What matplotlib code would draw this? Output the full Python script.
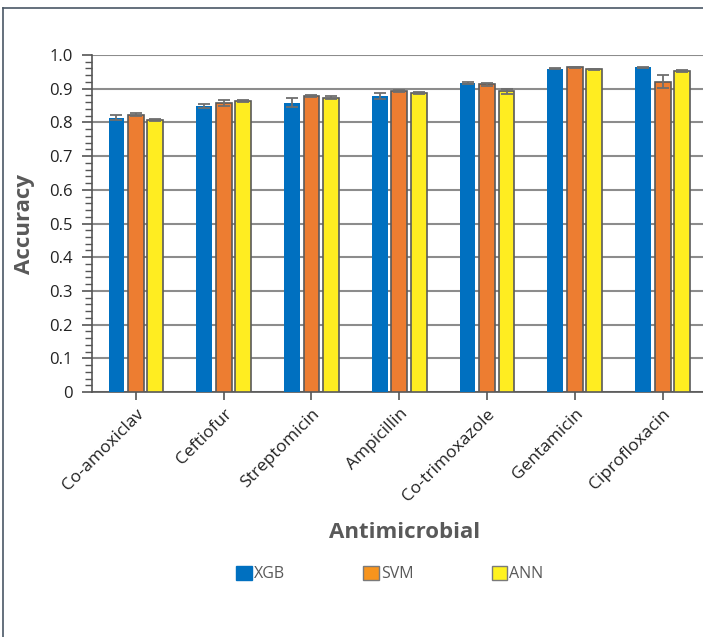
import matplotlib
matplotlib.use("Agg")
import matplotlib.pyplot as plt
import numpy as np
from matplotlib.lines import Line2D
from matplotlib.patches import Patch
from matplotlib.ticker import MultipleLocator

categories = ["Co-amoxiclav", "Ceftiofur", "Streptomicin", "Ampicillin",
              "Co-trimoxazole", "Gentamicin", "Ciprofloxacin"]
xgb = [0.814, 0.849, 0.858, 0.878, 0.917, 0.959, 0.963]
svm = [0.823, 0.858, 0.878, 0.893, 0.913, 0.963, 0.921]
ann = [0.808, 0.864, 0.873, 0.887, 0.892, 0.957, 0.953]
xgb_err = [0.007, 0.007, 0.013, 0.008, 0.004, 0.002, 0.002]
svm_err = [0.004, 0.008, 0.004, 0.004, 0.004, 0.002, 0.019]
ann_err = [0.003, 0.003, 0.004, 0.003, 0.008, 0.002, 0.002]
series_names = ["XGB", "SVM", "ANN"]
yticks = [0, 0.1, 0.2, 0.3, 0.4, 0.5, 0.6, 0.7, 0.8, 0.9, 1.0]
ytick_labels = ["0", "0.1", "0.2", "0.3", "0.4", "0.5", "0.6", "0.7", "0.8", "0.9", "1.0"]

plt.rcParams['font.family'] = ['Open Sans', 'DejaVu Sans']

fig = plt.figure(figsize=(7.03, 6.37), dpi=100)
ax = fig.add_axes([92/703, 1-392/637, 611/703, (392-55)/637])

x = np.arange(len(categories))
w = 0.18
off = 0.222
bar_colors = ["#0070C0", "#ED7D31", "#FFED21"]
edge_colors = ["#0070C0", "#5a5a5a", "#5a5a5a"]
data = [xgb, svm, ann]
errs = [xgb_err, svm_err, ann_err]
for i in range(3):
    xs = x + (i - 1) * off
    ax.bar(xs, data[i], w, color=bar_colors[i], edgecolor=edge_colors[i],
           linewidth=1.2 if i else 0, zorder=3)
    ax.errorbar(xs, data[i], yerr=errs[i], fmt='none', ecolor="#6e6e6e",
                elinewidth=1.3, capsize=4, capthick=1.3, zorder=4)

ax.set_xlim(-0.5, len(categories) - 0.54)
ax.set_ylim(0, 1.0)
ax.set_yticks(yticks)
ax.set_yticklabels(ytick_labels, fontsize=12, color="#222222")
ax.yaxis.set_minor_locator(MultipleLocator(0.02))
ax.tick_params(axis='y', which='major', length=7, width=1.2, color="#555555", pad=7)
ax.tick_params(axis='y', which='minor', length=5, width=1.0, color="#555555")
ax.set_xticks(x)
ax.set_xticklabels(categories, rotation=45, ha='right', rotation_mode='anchor',
                   fontsize=12.5, color="#222222")
ax.tick_params(axis='x', length=6, width=1.2, color="#555555", pad=4)

ax.grid(axis='y', which='major', color="#8c8c8c", linewidth=1.5, zorder=0)
ax.set_axisbelow(True)
for s in ['top', 'right']:
    ax.spines[s].set_visible(False)
for s in ['left', 'bottom']:
    ax.spines[s].set_color("#555555")
    ax.spines[s].set_linewidth(1.2)

ax.set_ylabel("Accuracy", fontsize=16, fontweight='bold', color="#595959", labelpad=10)
fig.text(405/703, 1-532/637, "Antimicrobial", fontsize=16, fontweight='bold',
         color="#595959", ha='center', va='center')

legend_colors = ["#0070C0", "#F7941D", "#FFF21F"]
legend_edges = ["#0070C0", "#7a7a7a", "#7a7a7a"]
handles = [Patch(facecolor=legend_colors[i], edgecolor=legend_edges[i], linewidth=1)
           for i in range(3)]
fig.legend(handles, series_names, loc='center', bbox_to_anchor=(390/703, 1-574/637),
           ncol=3, frameon=False, fontsize=11.5, handlelength=0.95, handleheight=0.95,
           handletextpad=0.15, columnspacing=4.9, labelcolor="#595959")

fig.add_artist(Line2D([3/703, 1.0], [1-8/637, 1-8/637], transform=fig.transFigure,
                      color="#4a5866", linewidth=1.2))
fig.add_artist(Line2D([3/703, 3/703], [0, 1-8/637], transform=fig.transFigure,
                      color="#4a5866", linewidth=1.2))

fig.savefig("out.png", dpi=100)
